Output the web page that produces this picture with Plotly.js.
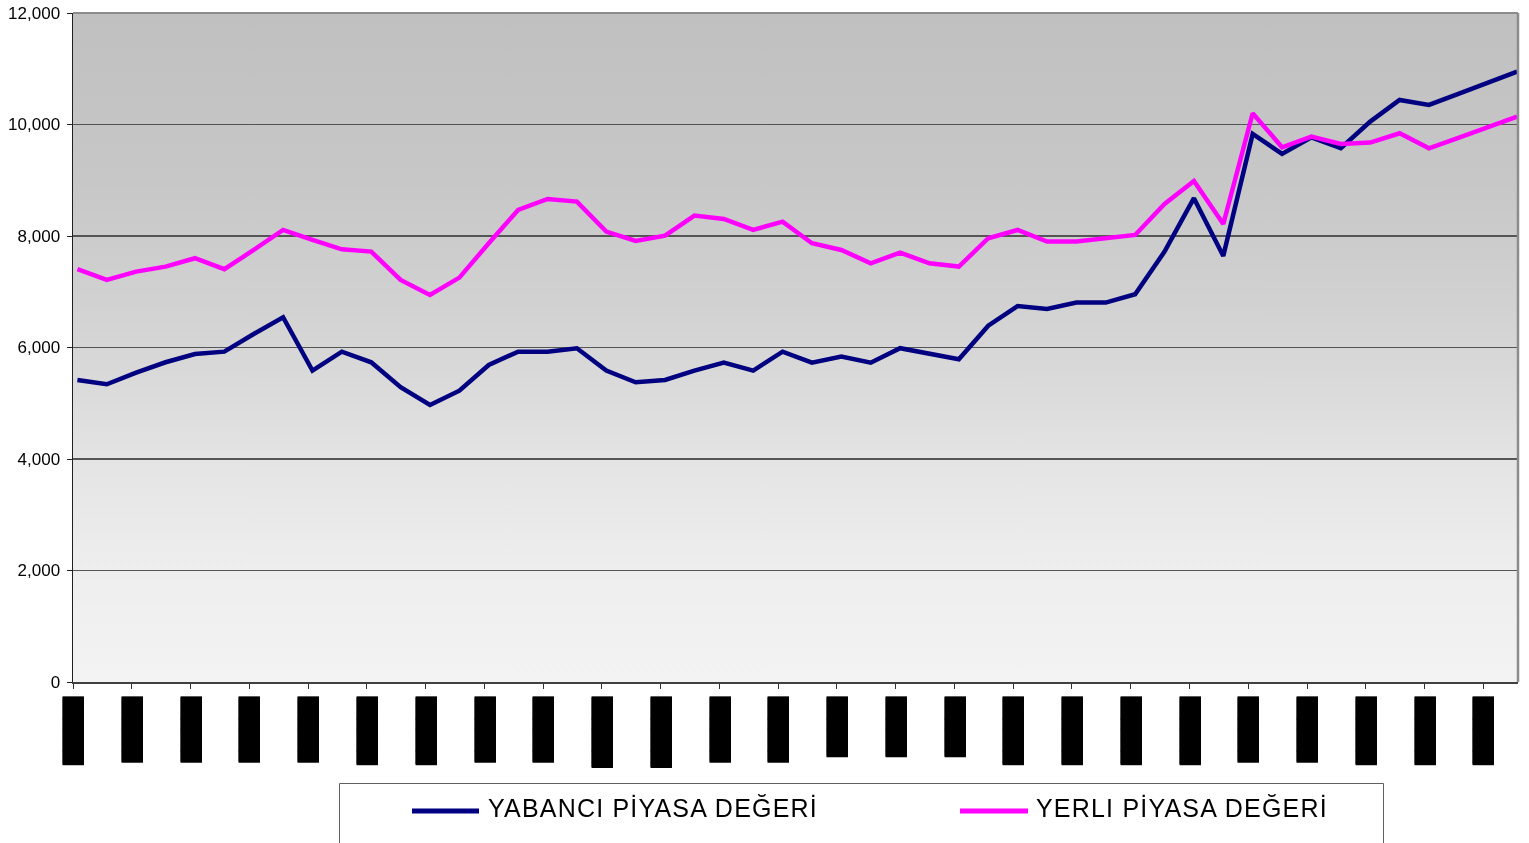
<!DOCTYPE html>
<html>
<head>
<meta charset="utf-8">
<script src="https://cdn.plot.ly/plotly-3.0.1.min.js"></script>
<style>html,body{margin:0;padding:0;background:#fff;}#chart{width:1529px;height:843px;will-change:transform;}</style>
</head>
<body>
<div id="chart"></div>
<script>
// ---- data ----
var periods = [0,1,2,3,4,5,6,7,8,9,10,11,12,13,14,15,16,17,18,19,20,21,22,23,24,25,26,27,28,29,30,31,32,33,34,35,36,37,38,39,40,41,42,43,44,45,46,47,48,49];
var yabanciValues = [5418,5341,5549,5735,5884,5926,6243,6543,5585,5926,5735,5287,4969,5226,5687,5926,5926,5987,5585,5377,5418,5585,5728,5585,5926,5728,5836,5728,5987,5884,5790,6392,6745,6692,6805,6805,6955,7720,8678,7643,9831,9473,9771,9574,10052,10441,10351,10551,10750,10949];
var yerliValues = [7404,7212,7361,7451,7601,7404,7750,8109,7930,7762,7720,7212,6943,7254,7870,8468,8665,8617,8079,7912,8007,8366,8306,8109,8258,7870,7750,7511,7702,7511,7451,7960,8109,7900,7900,7960,8019,8575,8988,8216,10202,9592,9783,9650,9676,9843,9574,9760,9950,10142];
var seriesNames = ["YABANCI PİYASA DEĞERİ", "YERLI PİYASA DEĞERİ"];
var tickPeriods = [0,2,4,6,8,10,12,14,16,18,20,22,24,26,28,30,32,34,36,38,40,42,44,46,48];
var tickLabels = ["██████▎","██████","██████","██████","██████","██████▎","██████▎","██████","██████","██████▌","██████▌","██████","██████","█████▌","█████▌","█████▌","██████▎","██████▎","██████▎","██████▎","██████","██████","██████▎","██████▎","██████▎"];
var yTicks = [0,2000,4000,6000,8000,10000,12000];

// ---- layout helpers (pixel -> paper) ----
var W = 1529, H = 843, mL = 73, mR = 11, mT = 13, mB = 161;
var pw = W - mL - mR, ph = H - mT - mB;
function px(x){ return (x - mL) / pw; }
function py(y){ return (mT + ph - y) / ph; }

var gradSvg = '<svg xmlns="http://www.w3.org/2000/svg" width="100" height="100" viewBox="0 0 100 100" preserveAspectRatio="none">' +
  '<defs><linearGradient id="g" x1="0" y1="0" x2="0" y2="1">' +
  '<stop offset="0" stop-color="#c0c0c0"/><stop offset="0.25" stop-color="#c7c7c7"/>' +
  '<stop offset="0.43" stop-color="#d1d1d1"/><stop offset="0.58" stop-color="#dcdcdc"/>' +
  '<stop offset="0.67" stop-color="#e4e4e4"/><stop offset="0.83" stop-color="#eeeeee"/>' +
  '<stop offset="1" stop-color="#f3f3f3"/></linearGradient></defs>' +
  '<rect x="0" y="0" width="100" height="100" fill="url(#g)"/></svg>';

var traces = [
  {x: periods, y: yabanciValues, name: seriesNames[0], type: 'scatter', mode: 'lines',
   line: {color: '#000080', width: 4.5}, showlegend: false, cliponaxis: true},
  {x: periods, y: yerliValues, name: seriesNames[1], type: 'scatter', mode: 'lines',
   line: {color: '#ff00ff', width: 4.5}, showlegend: false, cliponaxis: true}
];

var legendFont = {family: 'Liberation Sans, Arial, sans-serif', size: 25, color: '#000'};

var layout = {
  width: W, height: H,
  margin: {l: mL, r: mR, t: mT, b: mB, pad: 0},
  paper_bgcolor: '#ffffff',
  plot_bgcolor: 'rgba(0,0,0,0)',
  font: {family: 'Liberation Sans, Arial, sans-serif', color: '#000'},
  showlegend: false,
  xaxis: {
    range: [-0.15, 49.03], showgrid: false, zeroline: false,
    showline: true, linecolor: '#404040', linewidth: 2,
    ticks: 'outside', ticklen: 5, tickwidth: 1, tickcolor: '#303030',
    tickmode: 'array',
    tickvals: tickPeriods.map(function(v){ return v - 0.15; }),
    ticktext: tickLabels,
    tickangle: 90,
    tickfont: {family: 'DejaVu Sans Mono', size: 18, color: '#000', shadow: '1px 0 0 #000'},
    ticklabelstandoff: 4
  },
  yaxis: {
    range: [0, 12000], tickmode: 'array', tickvals: yTicks,
    tickformat: ',d', showgrid: true, gridcolor: '#555555', gridwidth: 1.2,
    zeroline: false, showline: true, linecolor: '#202020', linewidth: 1.5,
    ticks: 'outside', ticklen: 5, tickwidth: 1, tickcolor: '#202020',
    tickfont: {family: 'Liberation Sans, Arial, sans-serif', size: 17, color: '#000'},
    ticklabelstandoff: 3
  },
  images: [{source: 'data:image/svg+xml;utf8,' + encodeURIComponent(gradSvg),
    xref: 'paper', yref: 'paper', x: 0, y: 1, sizex: 1, sizey: 1,
    sizing: 'stretch', xanchor: 'left', yanchor: 'top', layer: 'below'}],
  shapes: [
    // plot frame (top & right)
    {type: 'line', xref: 'paper', yref: 'paper', x0: 0, x1: 1, y0: 1, y1: 1, line: {color: '#8c8c8c', width: 2}},
    {type: 'line', xref: 'paper', yref: 'paper', x0: 1, x1: 1, y0: 0, y1: 1, line: {color: '#8c8c8c', width: 2.5}},
    // legend box
    {type: 'rect', xref: 'paper', yref: 'paper', x0: px(339.5), x1: px(1383.5), y0: py(783.5), y1: py(880),
     line: {color: '#606060', width: 1}, fillcolor: 'rgba(0,0,0,0)'},
    // legend line samples
    {type: 'line', xref: 'paper', yref: 'paper', x0: px(412), x1: px(479), y0: py(811), y1: py(811),
     line: {color: '#000080', width: 5}},
    {type: 'line', xref: 'paper', yref: 'paper', x0: px(960), x1: px(1028), y0: py(811), y1: py(811),
     line: {color: '#ff00ff', width: 5}}
  ],
  annotations: [
    {xref: 'paper', yref: 'paper', x: px(486), y: py(808), xanchor: 'left', yanchor: 'middle', showarrow: false,
     text: '<span style="letter-spacing:1.2px">' + seriesNames[0] + '</span>', font: legendFont},
    {xref: 'paper', yref: 'paper', x: px(1034), y: py(808), xanchor: 'left', yanchor: 'middle', showarrow: false,
     text: '<span style="letter-spacing:1.2px">' + seriesNames[1] + '</span>', font: legendFont}
  ]
};

Plotly.newPlot('chart', traces, layout, {staticPlot: true, displayModeBar: false});
</script>
</body>
</html>
